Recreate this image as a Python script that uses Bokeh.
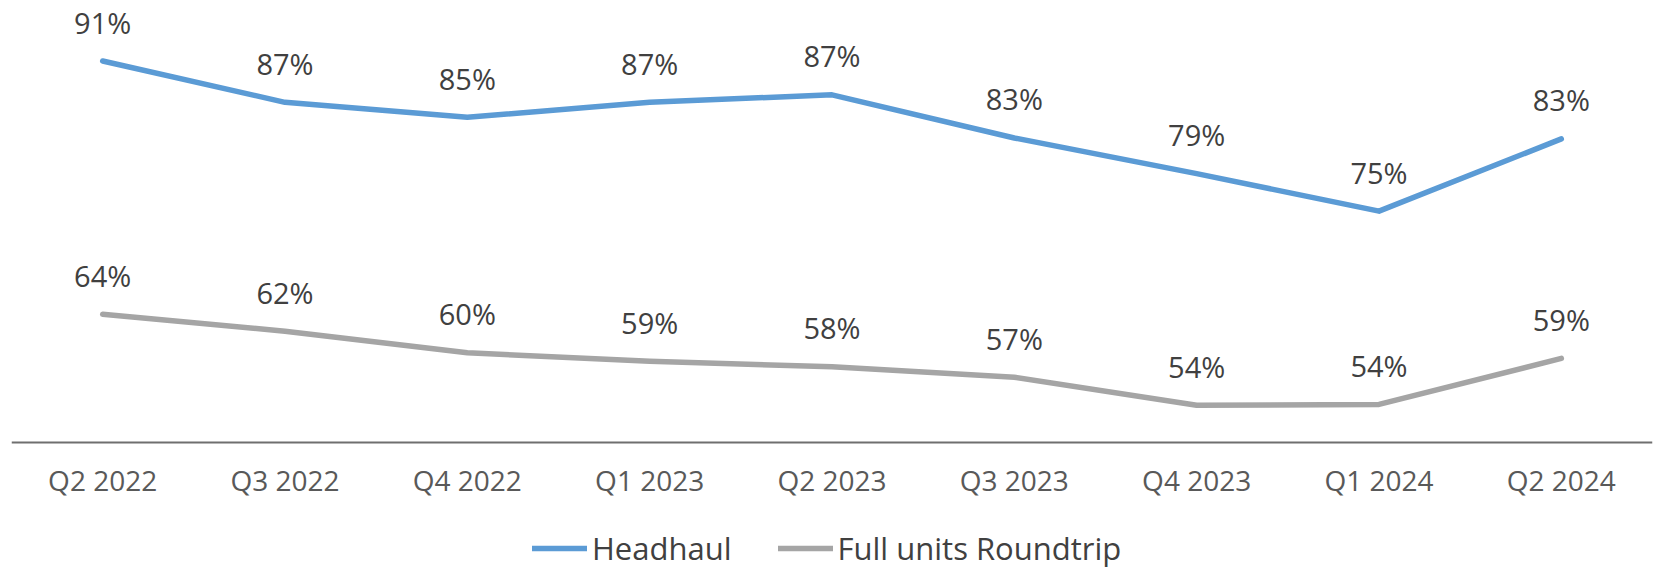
from bokeh.plotting import figure
from bokeh.models import ColumnDataSource, FactorRange, Range1d, Legend, LegendItem
from bokeh.core.properties import value
from bokeh.embed import file_html
from bokeh.resources import INLINE

quarters = ["Q2 2022", "Q3 2022", "Q4 2022", "Q1 2023", "Q2 2023",
            "Q3 2023", "Q4 2023", "Q1 2024", "Q2 2024"]
headhaul = [91.0, 86.6, 85.0, 86.6, 87.4, 82.8, 79.0, 75.0, 82.7]
roundtrip = [64.0, 62.2, 59.9, 59.0, 58.4, 57.3, 54.3, 54.4, 59.3]
series_names = ["Headhaul", "Full units Roundtrip"]
axis_base = 50.35

BLUE = "#5B9BD5"
GRAY = "#A5A5A5"
FONT = "Open Sans"

p = figure(x_range=FactorRange(*quarters, range_padding=0),
           y_range=Range1d(36.8, 96.6),
           width=1660, height=569,
           min_border_left=11, min_border_right=8, min_border_top=8,
           min_border_bottom=0,
           output_backend="svg", toolbar_location=None)

p.outline_line_color = None
p.xgrid.visible = False
p.ygrid.visible = False
p.yaxis.visible = False
p.background_fill_color = "white"
p.border_fill_color = "white"

xa = p.xaxis[0]
xa.fixed_location = axis_base
xa.axis_line_color = "#6F6F6F"
xa.axis_line_width = 2
xa.major_tick_line_color = None
xa.minor_tick_line_color = None
xa.major_tick_out = 0
xa.major_tick_in = 0
xa.major_label_standoff = 19
xa.major_label_text_font = FONT
xa.major_label_text_font_size = "28px"
xa.major_label_text_color = "#595959"

items = []
for name, vals, col in [(series_names[0], headhaul, BLUE), (series_names[1], roundtrip, GRAY)]:
    src = ColumnDataSource(dict(x=quarters, y=vals, lab=[f"{round(v)}%" for v in vals]))
    r = p.line("x", "y", source=src, line_color=col, line_width=5.5, line_cap="round", line_join="round")
    p.text("x", "y", text="lab", source=src, y_offset=-39, text_align="center",
           text_baseline="middle", text_font=value(FONT), text_font_size="29px",
           text_color="#404040")
    items.append(LegendItem(label=name, renderers=[r]))

legend = Legend(items=items, orientation="horizontal", location=(521, 0),
                glyph_width=55, glyph_height=36, label_standoff=5, spacing=46,
                padding=0, margin=0, border_line_color=None, background_fill_alpha=0,
                label_text_font=FONT, label_text_font_size="31px", label_text_color="#404040")
p.add_layout(legend, "center")

open("out.html", "w").write(file_html(p, INLINE))
